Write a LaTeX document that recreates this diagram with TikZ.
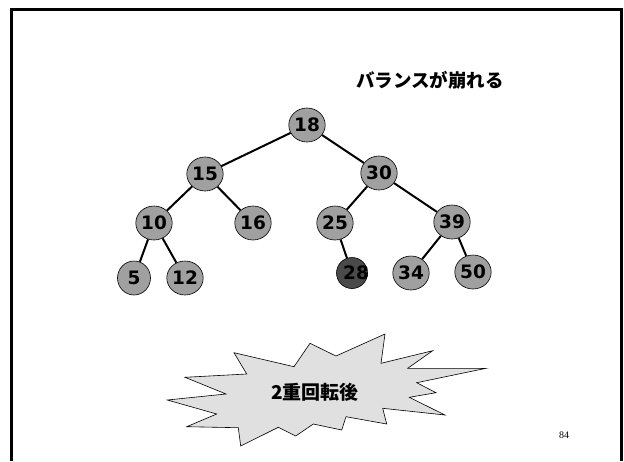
\documentclass[tikz,border=0pt]{standalone}
\usepackage{fontspec}
\usetikzlibrary{shapes.geometric}
\setmainfont{Liberation Sans}
\newfontfamily\cjk{Noto Sans CJK JP}
\newfontfamily\serifnum{Liberation Serif}
\newfontfamily\digitfont{DejaVu Sans}
\definecolor{nodegray}{HTML}{A0A0A0}
\definecolor{burstgray}{HTML}{E0E0E0}
\definecolor{nodedark}{HTML}{4A4A4A}
\begin{document}
\begin{tikzpicture}[x=1pt,y=-1pt,
  tnode/.style={ellipse,draw=black,line width=0.6pt,fill=nodegray,minimum width=33pt,minimum height=34pt,inner sep=0pt,font=\digitfont\bfseries\fontsize{18.5}{18.5}\selectfont},
  tdark/.style={tnode,fill=nodedark,minimum width=31pt,minimum height=31pt},
  edge/.style={line width=2pt,black}]
\useasboundingbox (0,0) rectangle (624,461);
\fill[white] (0,0) rectangle (624,461);
% frame
\draw[line width=3pt] (11,461) -- (11,9.5) -- (621,9.5) -- (621,461);
% title
\node[font=\cjk\bfseries\fontsize{18.5}{18.5}\selectfont] (title) at (430,80.5) {バランスが崩れる};
% tree nodes
\node[tnode] (n18) at (307,125) {18};
\node[tnode] (n15) at (205,174) {15};
\node[tnode] (n30) at (379,173) {30};
\node[tnode] (n10) at (154,223) {10};
\node[tnode] (n16) at (253,223) {16};
\node[tnode] (n25) at (335,223) {25};
\node[tnode] (n39) at (452,222) {39};
\node[tnode] (n5) at (134,278) {5};
\node[tnode] (n12) at (185,278) {12};
\node[tdark] (n28) at (352,273) {};
\node[font=\digitfont\bfseries\fontsize{18.5}{18.5}\selectfont] (t28) at (356,273) {28};
\node[tnode] (n34) at (411,273) {34};
\node[tnode] (n50) at (473,272) {50};
% edges
\draw[edge] (n18) -- (n15);
\draw[edge] (n18) -- (n30);
\draw[edge] (n15) -- (n10);
\draw[edge] (n15) -- (n16);
\draw[edge] (n30) -- (n25);
\draw[edge] (n30) -- (n39);
\draw[edge] (n10) -- (n5);
\draw[edge] (n10) -- (n12);
\draw[edge] (n25) -- (n28);
\draw[edge] (n39) -- (n34);
\draw[edge] (n39) -- (n50);
% starburst
\draw[fill=burstgray,line width=0.6pt,line join=miter]
 (234,352.7) -- (294,366.7) -- (310,343.3) -- (336,356) -- (385,334) -- (381,363.3)
 -- (432.7,350.7) -- (407.7,368.3) -- (486,368.3) -- (416.7,382.7) -- (436,392.7)
 -- (409.3,397.3) -- (445,415) -- (382.7,408.3) -- (386.7,424) -- (346,416.7)
 -- (341.7,430) -- (313.3,424) -- (295.7,436) -- (278.3,427.3) -- (240.7,446)
 -- (238.3,427.7) -- (186.7,426.7) -- (216.7,414) -- (167.3,400) -- (226,394)
 -- (185,377.3) -- (246.7,374) -- cycle;
\node[font=\cjk\bfseries\fontsize{19}{19}\selectfont] (burst) at (315,392.5) {2重回転後};
% page number
\node[font=\serifnum\fontsize{10}{10}\selectfont] (page) at (564,435.5) {84};
\end{tikzpicture}
\end{document}
